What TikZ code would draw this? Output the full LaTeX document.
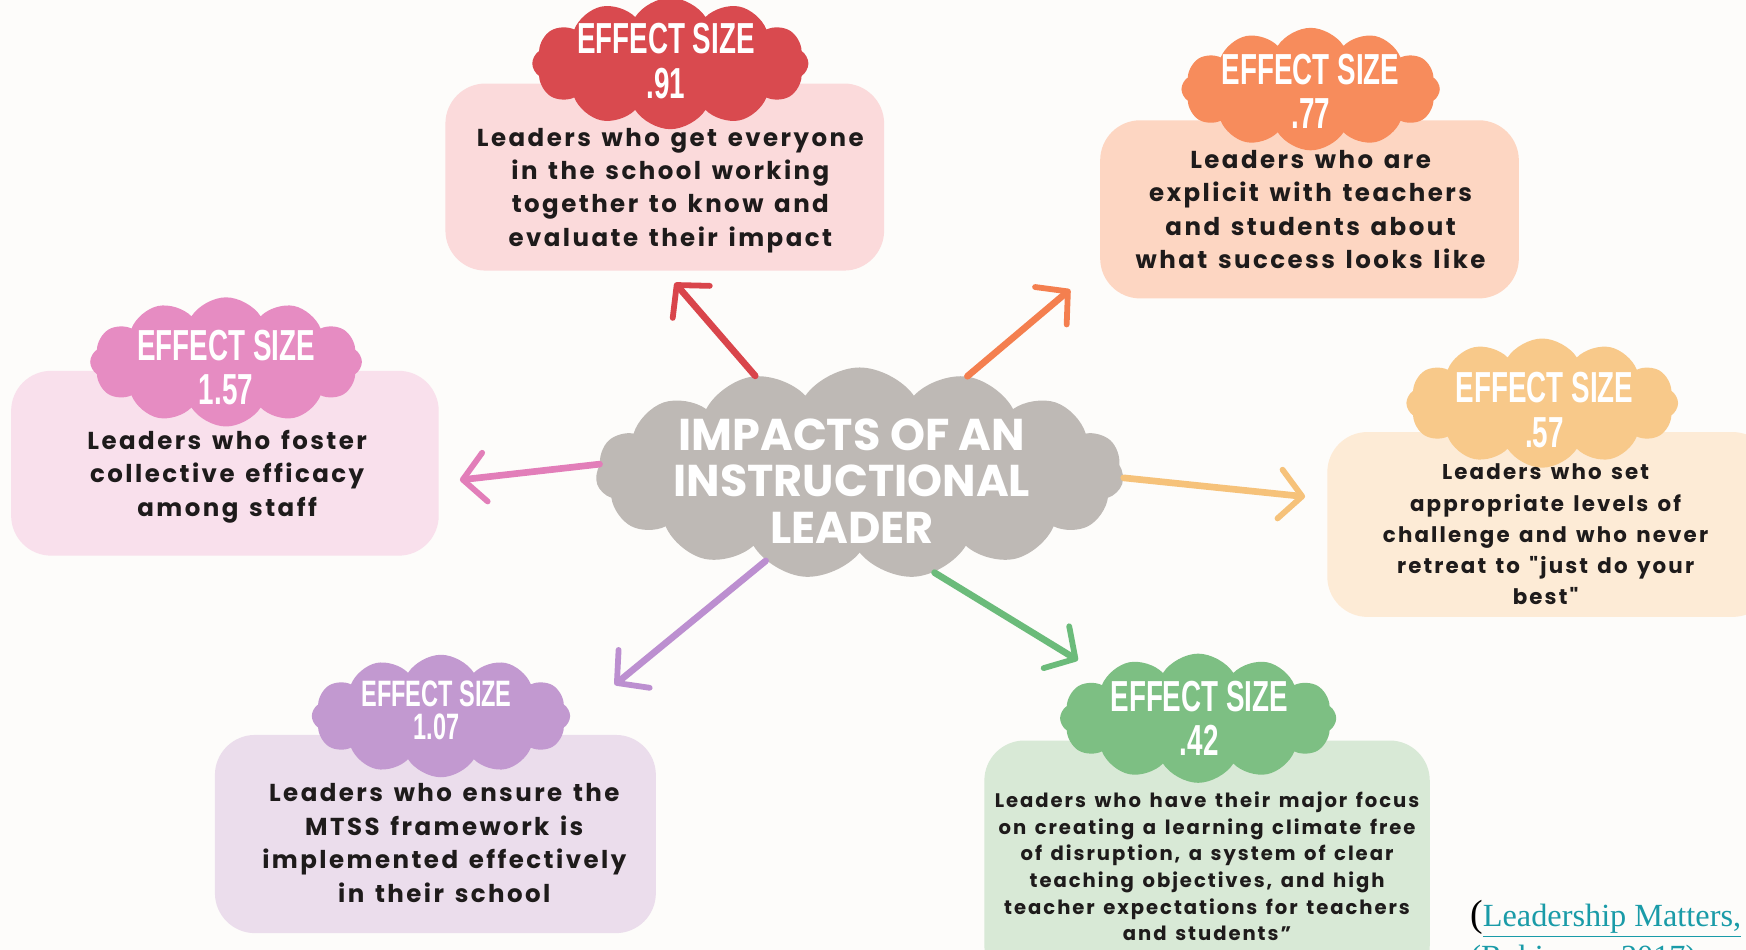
\documentclass[tikz,border=0pt]{standalone}
\usepackage{fontspec}
\setmainfont{Poppins}
\newfontfamily\bodyfont{Poppins}[LetterSpace=10, WordSpace=1.4]
\newfontfamily\badgefont{Liberation Sans}[FakeStretch=0.64]
\newfontfamily\citefont{Liberation Serif}
\usepackage{tikz}
\usetikzlibrary{shapes.symbols, arrows.meta}

\definecolor{bgpaper}{HTML}{FDFCFA}
\definecolor{hubgray}{HTML}{BEB9B5}
\definecolor{inkblack}{HTML}{1E1B1B}
\definecolor{linkteal}{HTML}{1A9BA8}
% badge, card and arrow colours
\definecolor{redbadge}{HTML}{D94A4F}   \definecolor{redcard}{HTML}{FBDADB}   \definecolor{redarrow}{HTML}{D9454B}
\definecolor{orgbadge}{HTML}{F78C5C}   \definecolor{orgcard}{HTML}{FDD6C2}   \definecolor{orgarrow}{HTML}{F47F4F}
\definecolor{pinkbadge}{HTML}{E68CC2}  \definecolor{pinkcard}{HTML}{F9E0EC}  \definecolor{pinkarrow}{HTML}{E27EB9}
\definecolor{yelbadge}{HTML}{F8C98A}   \definecolor{yelcard}{HTML}{FDEBD6}   \definecolor{yelarrow}{HTML}{F6C27A}
\definecolor{purbadge}{HTML}{C299D0}   \definecolor{purcard}{HTML}{EBDDEC}   \definecolor{purarrow}{HTML}{BC8FD0}
\definecolor{grnbadge}{HTML}{7DBF83}   \definecolor{grncard}{HTML}{D8E9D6}   \definecolor{grnarrow}{HTML}{6BBB7A}

\begin{document}
\begin{tikzpicture}[x=0.5pt, y=-0.5pt,
    hub/.style={cloud, cloud puffs=15, cloud puff arc=110, cloud ignores aspect, fill=hubgray, inner sep=0pt, minimum width=237pt, minimum height=95pt},
    badge/.style={cloud, cloud puffs=12, cloud puff arc=115, cloud ignores aspect, inner sep=0pt},
    card/.style={rectangle, rounded corners=18pt, inner sep=0pt},
    badgetext/.style={text=white, align=center, inner sep=0pt, font=\badgefont\bfseries\fontsize{19.5}{20}\selectfont},
    bodytext/.style={align=center, text=inkblack, inner sep=0pt, font=\bodyfont\bfseries\fontsize{11}{15}\selectfont},
    flow/.style={line width=3pt, line cap=round, -{Straight Barb[round, length=10pt, width=22pt, line width=2.6pt]}}
]
    % Page
    \useasboundingbox (0,0) rectangle (1568,853);
    \clip (0,0) rectangle (1568,853);
    \fill[bgpaper] (0,0) rectangle (1568,853);

    % Central cloud
    \node[hub] (hub) at (772,425) {};
    \node[align=center, text=white, font=\bfseries\fontsize{20}{21}\selectfont] (hubtext) at (765,432) {IMPACTS OF AN\\INSTRUCTIONAL\\LEADER};

    % Cards (drawn first, badges sit on top)
    \node[card, fill=redcard, minimum width=197pt, minimum height=84pt] (cardA) at (597,159) {};
    \node[card, fill=orgcard, minimum width=188pt, minimum height=80pt] (cardB) at (1176,188) {};
    \node[card, fill=pinkcard, minimum width=192pt, minimum height=83pt] (cardC) at (202,416) {};
    \node[card, fill=yelcard, minimum width=200pt, minimum height=83pt] (cardD) at (1392,471) {};
    \node[card, fill=purcard, minimum width=198pt, minimum height=89pt] (cardE) at (391,749) {};
    \node[card, fill=grncard, minimum width=200pt, minimum height=110pt] (cardF) at (1084,775) {};

    % Effect size badges
    \node[badge, fill=redbadge, minimum width=124pt, minimum height=59pt] (badgeA) at (602,57) {};
    \node[badge, fill=orgbadge, minimum width=116pt, minimum height=55pt] (badgeB) at (1177,80) {};
    \node[badge, fill=pinkbadge, minimum width=122pt, minimum height=58pt] (badgeC) at (203,325) {};
    \node[badge, fill=yelbadge, minimum width=122pt, minimum height=58pt] (badgeD) at (1385,362) {};
    \node[badge, fill=purbadge, minimum width=116pt, minimum height=55pt] (badgeE) at (396,643) {};
    \node[badge, fill=grnbadge, minimum width=124pt, minimum height=58pt] (badgeF) at (1076,645) {};

    \node[badgetext] (sizeA) at (598,55) {EFFECT SIZE\\.91};
    \node[badgetext] (sizeB) at (1177,82) {EFFECT SIZE\\.77};
    \node[badgetext] (sizeC) at (203,330) {EFFECT SIZE\\1.57};
    \node[badgetext] (sizeD) at (1387,368) {EFFECT SIZE\\.57};
    \node[badgetext, font=\badgefont\bfseries\fontsize{16.5}{15}\selectfont] (sizeE) at (392,638) {EFFECT SIZE\\1.07};
    \node[badgetext] (sizeF) at (1077,645) {EFFECT SIZE\\.42};

    % Card texts
    \node[bodytext] (textA) at (602,171) {Leaders who get everyone\\in the school working\\together to know and\\evaluate their impact};
    \node[bodytext] (textB) at (1177,188) {Leaders who are\\explicit with teachers\\and students about\\what success looks like};
    \node[bodytext] (textC) at (204,428) {Leaders who foster\\collective efficacy\\among staff};
    \node[bodytext, font=\bodyfont\bfseries\fontsize{9.6}{14}\selectfont] (textD) at (1388,480) {Leaders who set\\appropriate levels of\\challenge and who never\\retreat to "just do your\\best"};
    \node[bodytext] (textE) at (399,757) {Leaders who ensure the\\MTSS framework is\\implemented effectively\\in their school};
    \node[bodytext, font=\bodyfont\bfseries\fontsize{8.8}{12}\selectfont] (textF) at (1084,778) {Leaders who have their major focus\\on creating a learning climate free\\of disruption, a system of clear\\teaching objectives, and high\\teacher expectations for teachers\\and students”};

    % Arrow tips
    \coordinate (tipA) at (606,254);
    \coordinate (tipB) at (961,260);
    \coordinate (tipC) at (413,431);
    \coordinate (tipD) at (1172,446);
    \coordinate (tipE) at (552,615);
    \coordinate (tipF) at (968,593);

    % Arrows out of the central cloud
    \draw[flow, redarrow] (hub.137) -- (tipA);
    \draw[flow, orgarrow] (hub.42) -- (tipB);
    \draw[flow, pinkarrow] (hub.178) -- (tipC);
    \draw[flow, yelarrow] (hub.-1) -- (tipD);
    \draw[flow, purarrow] (hub.-137) -- (tipE);
    \draw[flow, grnarrow] (hub.-53) -- (tipF);

    % Citation
    \node[anchor=base west, inner sep=0pt, font=\citefont\fontsize{14.5}{16}\selectfont] (cite) at (1320,832)
        {\textcolor{black}{\fontsize{17}{16}\selectfont(}\textcolor{linkteal}{\underline{Leadership Matters,}}};
    \node[anchor=base west, inner sep=0pt, font=\citefont\fontsize{14.5}{16}\selectfont, text=linkteal] (citeyear) at (1320,869)
        {(Robinson, 2017)};
\end{tikzpicture}
\end{document}
